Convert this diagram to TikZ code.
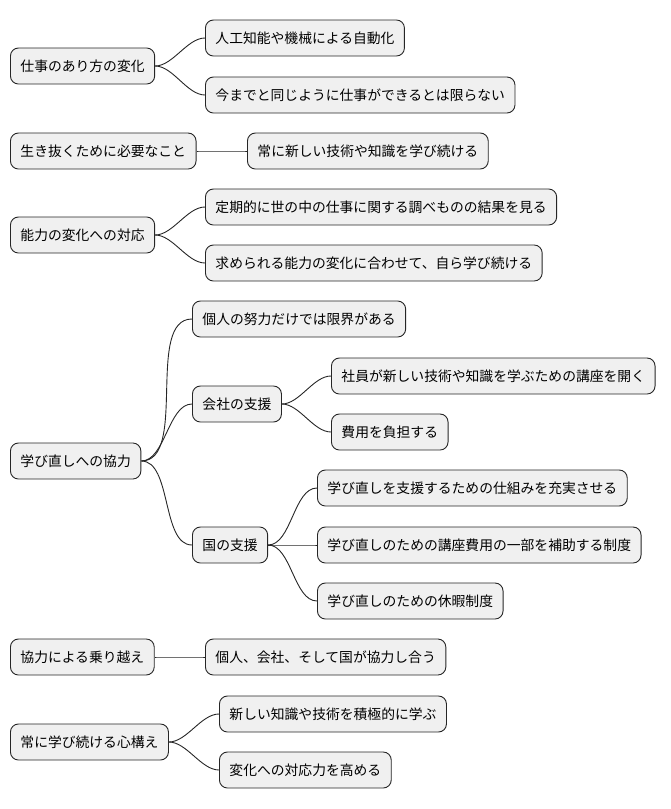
\documentclass[tikz,border=0pt]{standalone}
\usepackage{fontspec}
\setmainfont{Noto Sans CJK JP}
\begin{document}
\begin{tikzpicture}[x=1pt,y=-1pt,
 box/.style={draw=black!85,fill=black!6,rounded corners=8pt,line width=0.9pt,minimum height=36pt,inner xsep=10pt,anchor=west,font=\fontsize{13.8}{15}\selectfont},
 ln/.style={draw=black!85,line width=0.9pt},
 c/.style={ln,out=0,in=180,looseness=0.8}]
\useasboundingbox (0,0) rectangle (670,809);
\node[box] (a) at (10,66) {仕事のあり方の変化};
\node[box] (a1) at (205,38) {人工知能や機械による自動化};
\node[box] (a2) at (205,95) {今までと同じように仕事ができるとは限らない};
\node[box] (b) at (10,151) {生き抜くために必要なこと};
\node[box] (b1) at (247,151) {常に新しい技術や知識を学び続ける};
\node[box] (d) at (10,235) {能力の変化への対応};
\node[box] (d1) at (205,207) {定期的に世の中の仕事に関する調べものの結果を見る};
\node[box] (d2) at (205,263) {求められる能力の変化に合わせて、自ら学び続ける};
\node[box] (e) at (10,461) {学び直しへの協力};
\node[box] (e1) at (192,319) {個人の努力だけでは限界がある};
\node[box] (e2) at (192,404) {会社の支援};
\node[box] (e3) at (192,545) {国の支援};
\node[box] (f1) at (331,376) {社員が新しい技術や知識を学ぶための講座を開く};
\node[box] (f2) at (331,432) {費用を負担する};
\node[box] (g1) at (317,488) {学び直しを支援するための仕組みを充実させる};
\node[box] (g2) at (317,545) {学び直しのための講座費用の一部を補助する制度};
\node[box] (g3) at (317,601) {学び直しのための休暇制度};
\node[box] (h) at (10,657) {協力による乗り越え};
\node[box] (h1) at (205,657) {個人、会社、そして国が協力し合う};
\node[box] (k) at (10,742) {常に学び続ける心構え};
\node[box] (k1) at (219,714) {新しい知識や技術を積極的に学ぶ};
\node[box] (k2) at (219,770) {変化への対応力を高める};
\foreach \p/\ch in {a/a1,a/a2,b/b1,d/d1,d/d2,e/e1,e/e2,e/e3,e2/f1,e2/f2,e3/g1,e3/g2,e3/g3,h/h1,k/k1,k/k2}
 \draw[c] (\p.east) to (\ch.west);
\end{tikzpicture}
\end{document}
